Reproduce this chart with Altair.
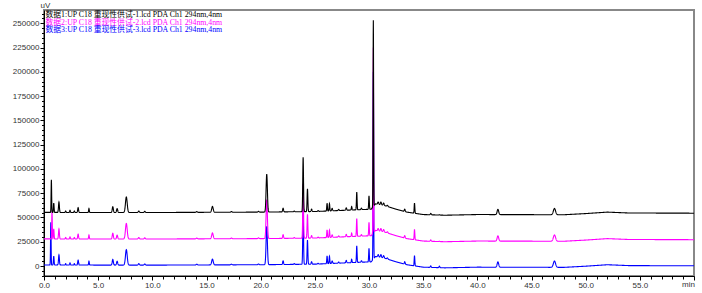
import numpy as np
import pandas as pd
import altair as alt

# ---------------- data ----------------
# peak table: retention time (min), width (sigma, min)
peak_times = [0.68, 0.90, 1.38, 2.00, 2.40, 2.80, 3.15, 4.15, 6.35, 6.75, 7.60,
              8.75, 9.30, 14.10, 15.55, 17.30, 19.80, 20.56, 22.07, 23.10, 23.92,
              24.32, 24.70, 25.30, 26.13, 26.35, 26.60, 27.20, 27.90, 28.40, 28.87,
              29.30, 30.00, 30.40, 30.85, 31.10, 31.35, 31.70, 33.30, 34.20, 35.70,
              36.50, 41.90, 47.12]
peak_widths = [0.025, 0.03, 0.04, 0.03, 0.03, 0.03, 0.04, 0.03, 0.05, 0.05, 0.08,
               0.05, 0.05, 0.05, 0.07, 0.05, 0.05, 0.06, 0.04, 0.04, 0.035,
               0.035, 0.04, 0.04, 0.03, 0.03, 0.04, 0.04, 0.04, 0.03, 0.03,
               0.04, 0.03, 0.025, 0.05, 0.05, 0.05, 0.05, 0.04, 0.03, 0.04,
               0.04, 0.07, 0.10]
# peak heights above baseline (uV) per trace
black_heights = [33700, 9700, 10700, 1500, 2200, 1500, 5000, 4000, 5900, 4000, 16000,
                 1500, 1200, 800, 6000, 700, 800, 39000, 3800, 800, 56000,
                 23500, 2500, 800, 8000, 7500, 2500, 1200, 2500, 3500, 18300,
                 1500, 14000, 192000, 2500, 3000, 2500, 1200, 2500, 10500, 1500,
                 300, 5500, 6500]
magenta_heights = [28500, 10300, 10300, 1500, 2200, 1500, 5000, 4000, 5900, 4000, 16000,
                   1500, 1200, 800, 6000, 700, 800, 40000, 3800, 800, 56000,
                   24500, 2500, 800, 8000, 7500, 2500, 1200, 2500, 3500, 18300,
                   1500, 14000, 191000, 2500, 3000, 2500, 1200, 2500, 10600, 1500,
                   300, 5500, 6500]
blue_heights = [44000, 9300, 10500, 1500, 2200, 1500, 5000, 4000, 5900, 4000, 16000,
                1500, 1200, 800, 6000, 700, 800, 39500, 3800, 800, 56000,
                25000, 2500, 800, 8000, 7500, 2500, 1200, 2500, 3500, 17000,
                1500, 14000, 193000, 2500, 3000, 2500, 1200, 2500, 10500, 1500,
                1500, 5500, 6500]
# first peak retention shift per trace (min)
first_peak_times = {"black": 0.68, "magenta": 0.74, "blue": 0.63}

# baseline (time, uV)
base_t = [0, 10, 20, 25, 28, 30.2, 30.6, 31.5, 32.5, 33.5, 35, 37, 40, 48, 50, 52, 54, 60]
base_v = [55200, 55100, 55500, 56100, 57500, 58500, 64000, 62000, 58500, 55500,
          53000, 52300, 53000, 52800, 54000, 55500, 54600, 54400]
trace_offsets = {"black": 0, "magenta": -27300, "blue": -54200}

legend_labels = [
    "数据1:UP C18 重现性供试-1.lcd PDA Ch1 294nm,4nm",
    "数据2:UP C18 重现性供试-2.lcd PDA Ch1 294nm,4nm",
    "数据3:UP C18 重现性供试-3.lcd PDA Ch1 294nm,4nm",
]
trace_colors = {"black": "#000000", "magenta": "#FF00FF", "blue": "#0000FF"}

# ---------------- build traces ----------------
t = np.union1d(np.round(np.arange(0, 60.0001, 0.01), 2),
               np.array(peak_times + list(first_peak_times.values())))


def trace(name, heights):
    y = np.interp(t, base_t, base_v) + trace_offsets[name]
    times = list(peak_times)
    times[0] = first_peak_times[name]
    for c, s, h in zip(times, peak_widths, heights):
        y = y + h * np.exp(-((t - c) ** 2) / (2 * s * s))
    return pd.DataFrame({"t": t, "v": np.round(y, 0)})


dfs = {
    "blue": trace("blue", blue_heights),
    "magenta": trace("magenta", magenta_heights),
    "black": trace("black", black_heights),
}

# ---------------- chart ----------------
label_font = "Liberation Sans"
xscale = alt.Scale(domain=[0, 60], nice=False, zero=False)
yscale = alt.Scale(domain=[-10300, 263700], nice=False, zero=False)

x_axis = alt.Axis(
    values=list(range(0, 61)),
    labelExpr="datum.value % 5 === 0 && datum.value < 60 ? format(datum.value, '.1f') : ''",
    tickSize={"condition": {"test": "datum.value % 5 === 0", "value": 4}, "value": 3},
    labelPadding=1, labelFlush=False, labelOverlap=False, labelBound=False,
    grid=False, domainColor="#000000", tickColor="#000000",
    labelFont=label_font, labelFontSize=8, labelColor="#333333",
    title="min", titleX=644, titleY=4, titleAlign="center", titleBaseline="top",
    titleFont=label_font, titleFontSize=8, titleFontWeight="normal", titleColor="#333333",
)
y_axis = alt.Axis(
    values=list(range(-10000, 263000, 5000)),
    labelExpr="datum.value % 25000 === 0 && datum.value >= 0 ? format(datum.value, 'd') : ''",
    tickSize={"condition": {"test": "datum.value % 25000 === 0", "value": 4}, "value": 2.5},
    labelPadding=1, labelFlush=False, labelOverlap=False, labelBound=False,
    grid=False, domainColor="#000000", tickColor="#000000",
    labelFont=label_font, labelFontSize=8, labelColor="#333333",
    title="uV", titleAngle=0, titleX=1, titleY=-1, titleAlign="center", titleBaseline="bottom",
    titleFont=label_font, titleFontSize=8, titleFontWeight="normal", titleColor="#333333",
)

layers = []
for name in ["blue", "magenta", "black"]:
    layers.append(
        alt.Chart(dfs[name]).mark_line(strokeWidth=1.1, color=trace_colors[name]).encode(
            x=alt.X("t:Q", scale=xscale, axis=x_axis),
            y=alt.Y("v:Q", scale=yscale, axis=y_axis),
        )
    )

text_y = [4.8, 12.6, 20.4]
for lab, ty, name in zip(legend_labels, text_y, ["black", "magenta", "blue"]):
    layers.append(
        alt.Chart(pd.DataFrame({"label": [lab]})).mark_text(
            align="left", baseline="middle", fontSize=7.8,
            font="Liberation Serif, Noto Sans CJK SC", color=trace_colors[name],
        ).encode(x=alt.value(1.5), y=alt.value(ty), text="label:N")
    )

chart = alt.layer(*layers).properties(
    width=650, height=266, autosize="none",
    padding={"left": 44, "top": 10, "right": 8, "bottom": 17},
).configure_view(stroke="#888888", strokeWidth=2)

chart.save("out.html", embed_options={"renderer": "svg", "actions": False})
